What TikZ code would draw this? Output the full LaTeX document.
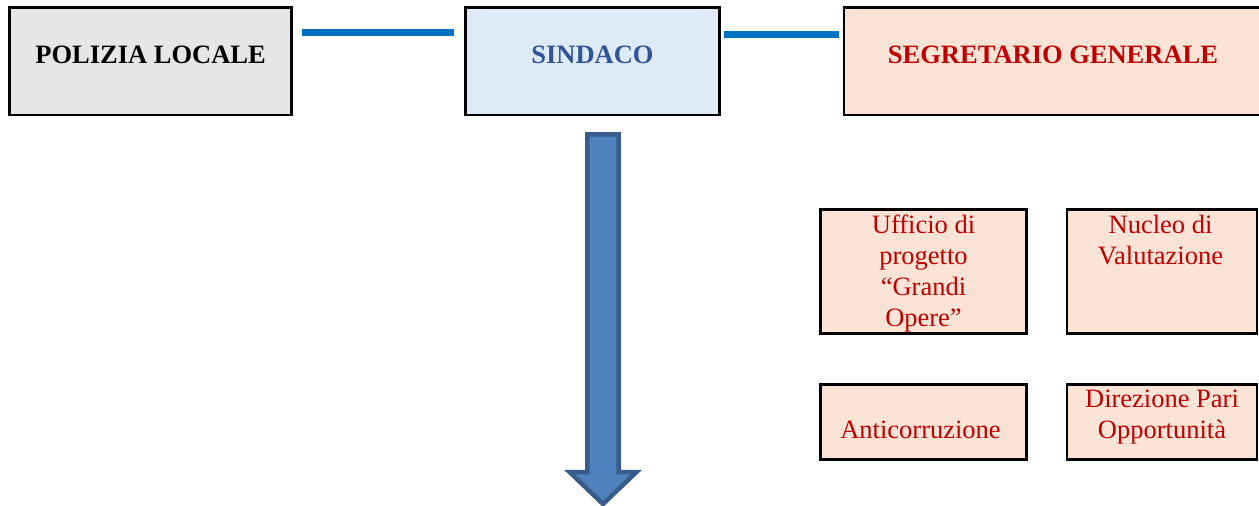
\documentclass[tikz,border=0pt]{standalone}
\usepackage{fontspec}
\setmainfont{Liberation Serif}
\definecolor{grayfill}{HTML}{E6E6E6}
\definecolor{bluefill}{HTML}{DEEBF7}
\definecolor{peachfill}{HTML}{FBE4D5}
\definecolor{darkred}{HTML}{C00000}
\definecolor{navytext}{HTML}{2F5597}
\definecolor{linkblue}{HTML}{0070C0}
\definecolor{arrowfill}{HTML}{4F81BD}
\definecolor{arrowline}{HTML}{385D8A}
\tikzset{
  box/.style={draw=black, line width=2.6pt, inner sep=0pt, outer sep=0pt},
  bigbox/.style={box, minimum width=#1, minimum height=107.5pt, text height=10pt, text depth=6.5pt,
    font=\fontsize{26.5}{31}\selectfont\bfseries},
  smallbox/.style={box, fill=peachfill},
  smalltxt/.style={inner sep=0pt, outer sep=0pt, align=center, text=darkred,
    font=\fontsize{26.5}{31}\selectfont},
  link/.style={draw=linkblue, line width=7pt},
  bigarrow/.style={fill=arrowfill, draw=arrowline, line width=4.5pt, line join=miter}
}
\begin{document}
\begin{tikzpicture}[x=1pt, y=-1pt]
\useasboundingbox (0,0) rectangle (1259,506);
\clip (0,0) rectangle (1259,506);
% top boxes
\node[bigbox=281.8pt, fill=grayfill, text=black] (pol) at (150.6,61.25) {POLIZIA LOCALE};
\node[bigbox=254.4pt, fill=bluefill, text=navytext] (sin) at (592.5,61.25) {SINDACO};
\node[bigbox=418pt, fill=peachfill, text=darkred] (seg) at (1053,61.25) {SEGRETARIO GENERALE};
% connectors
\draw[link, shorten <=10.5pt, shorten >=11pt] (pol.east |- 0,32) -- (sin.west |- 0,32);
\draw[link, shorten <=4.3pt, shorten >=5pt] (sin.east |- 0,34.5) -- (seg.west |- 0,34.5);
% big arrow
\draw[bigarrow] (587.3,134.3) -- (618.7,134.3) -- (618.7,472) -- (636.5,472)
  -- (603,504) -- (569.5,472) -- (587.3,472) -- cycle;
% small boxes
\node[smallbox, minimum width=206pt, minimum height=123.8pt] (uff) at (923.5,271.4) {};
\node[smallbox, minimum width=190pt, minimum height=123.8pt] (nuc) at (1162,271.4) {};
\node[smallbox, minimum width=206pt, minimum height=75.2pt] (ant) at (923.5,422.1) {};
\node[smallbox, minimum width=190pt, minimum height=75.2pt] (dir) at (1162,422.1) {};
\node[smalltxt, anchor=north] (uffT) at ([yshift=-5.2pt]uff.north) {Ufficio di\\progetto\\“Grandi\\Opere”};
\node[smalltxt, anchor=north] (nucT) at ([xshift=-1.5pt,yshift=-5.2pt]nuc.north) {Nucleo di\\Valutazione};
\node[smalltxt, anchor=base] (antT) at ([xshift=-3pt,yshift=21.7pt]ant.south) {Anticorruzione};
\node[smalltxt, anchor=north] (dirT) at ([yshift=-5.2pt]dir.north) {Direzione Pari\\Opportunità};
\end{tikzpicture}
\end{document}
